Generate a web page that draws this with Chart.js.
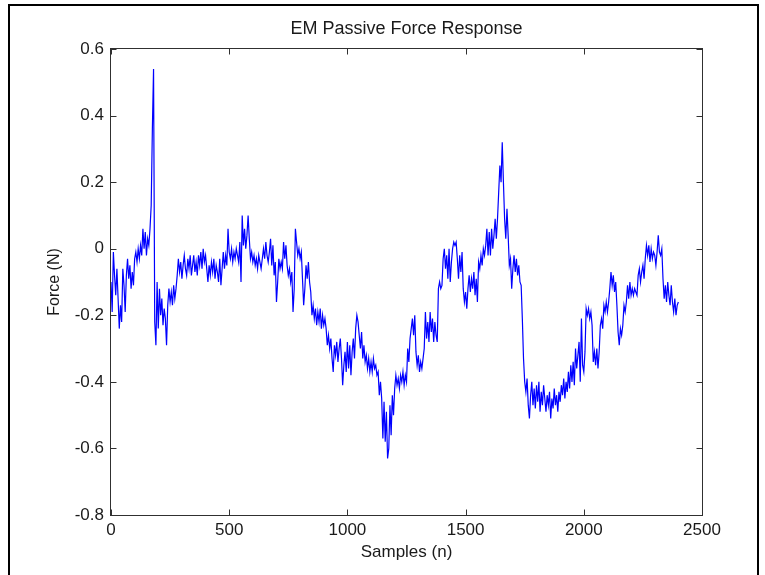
<!DOCTYPE html>
<html>
<head>
<meta charset="utf-8">
<script src="https://cdn.jsdelivr.net/npm/chart.js@4/dist/chart.umd.min.js"></script>
<style>
  html, body { margin: 0; padding: 0; background: #fff; }
  #wrap { position: relative; width: 765px; height: 575px; overflow: hidden; }
  #frame { position: absolute; left: 8px; top: 4px; width: 747px; height: 600px;
           border-left: 2px solid #000; border-top: 2px solid #000; border-right: 2px solid #000; }
  canvas { position: absolute; left: 0; top: 0; }
</style>
</head>
<body>
<div id="wrap">
  <div id="frame"></div>
  <canvas id="c" width="765" height="575"></canvas>
</div>
<script>
// Readings every 5 samples (n = 0, 5, 10, ... 2400)
const sampleStep = 5;

// Force values (N), one row per 100 samples
const force = [
  -0.10, -0.19, -0.01, -0.08, -0.14, -0.06, -0.15, -0.24, -0.17, -0.22, -0.06, -0.11, -0.19, -0.08, -0.03, -0.09, -0.05, -0.12, -0.07, -0.11, // 0-95
  -0.03, -0.01, -0.04,  0.00, -0.03,  0.01, -0.02,  0.06,  0.00,  0.05, -0.02,  0.03,  0.01,  0.06,  0.13,  0.36,  0.54, -0.22, -0.29, -0.10, // 100-195
  -0.24, -0.12, -0.20, -0.15, -0.23, -0.18, -0.21, -0.29, -0.17, -0.12, -0.16, -0.13, -0.17, -0.11, -0.15, -0.12, -0.08, -0.03, -0.07, -0.04, // 200-295
  -0.09, -0.05, -0.02, -0.06, -0.08, -0.03, -0.06, -0.02, -0.08, -0.05, -0.02, -0.07, -0.04, -0.08, -0.02, -0.05, -0.01, -0.06,  0.00, -0.04, // 300-395
  -0.02, -0.06, -0.10, -0.05, -0.08, -0.04, -0.07, -0.03, -0.09, -0.05, -0.07, -0.10, -0.03, -0.11, -0.06, -0.01, -0.06, -0.02, -0.05,  0.06, // 400-495
  -0.01, -0.03,  0.00, -0.04, -0.01, -0.03,  0.00, -0.02, -0.04,  0.02, -0.10,  0.10,  0.01,  0.06,  0.00,  0.04,  0.10,  0.03, -0.03, -0.01, // 500-595
  -0.04, -0.02, -0.05, -0.03, -0.06, -0.02, -0.04, -0.06, -0.03,  0.00, -0.03,  0.02, -0.02, -0.04, -0.01,  0.03, -0.05,  0.01, -0.08, -0.04, // 600-695
  -0.16, -0.10, -0.03, -0.06, -0.04, -0.06,  0.02, -0.03,  0.01, -0.05, -0.08, -0.06, -0.10, -0.07, -0.19, -0.12,  0.06,  0.02, -0.02,  0.00, // 700-795
  -0.03, -0.01, -0.09, -0.17, -0.12, -0.05, -0.09, -0.04, -0.10, -0.13, -0.20, -0.17, -0.21, -0.18, -0.23, -0.19, -0.22, -0.18, -0.24, -0.20, // 800-895
  -0.23, -0.21, -0.24, -0.29, -0.26, -0.30, -0.27, -0.33, -0.37, -0.29, -0.32, -0.28, -0.34, -0.30, -0.27, -0.33, -0.41, -0.35, -0.31, -0.37, // 900-995
  -0.28, -0.36, -0.29, -0.38, -0.31, -0.27, -0.33, -0.24, -0.20, -0.22, -0.26, -0.30, -0.25, -0.33, -0.29, -0.34, -0.32, -0.36, -0.33, -0.37, // 1000-1095
  -0.34, -0.37, -0.33, -0.36, -0.35, -0.38, -0.37, -0.44, -0.40, -0.45, -0.57, -0.46, -0.58, -0.49, -0.63, -0.60, -0.47, -0.56, -0.44, -0.50, // 1100-1195
  -0.42, -0.38, -0.41, -0.39, -0.42, -0.38, -0.40, -0.37, -0.41, -0.38, -0.40, -0.30, -0.34, -0.27, -0.24, -0.21, -0.26, -0.20, -0.31, -0.35, // 1200-1295
  -0.32, -0.37, -0.34, -0.36, -0.33, -0.30, -0.19, -0.27, -0.22, -0.28, -0.19, -0.25, -0.21, -0.28, -0.22, -0.26, -0.28, -0.12, -0.10, -0.12, // 1300-1395
  -0.11, -0.03,  0.00, -0.06, -0.02, -0.09,  0.00, -0.10, -0.04,  0.00,  0.02,  0.01,  0.02, -0.03, -0.09, -0.02, -0.07, -0.01, -0.12, -0.16, // 1400-1495
  -0.13, -0.18, -0.12, -0.08, -0.13, -0.09, -0.12, -0.07, -0.14, -0.09, -0.16, -0.04, -0.06, -0.02, -0.05,  0.00, -0.02,  0.01,  0.06, -0.02, // 1500-1595
   0.05, -0.02,  0.06,  0.00,  0.04,  0.09,  0.03,  0.09,  0.17,  0.25,  0.20,  0.32,  0.20,  0.09,  0.03,  0.12,  0.04, -0.05, -0.03, -0.12, // 1600-1695
  -0.06, -0.02, -0.07, -0.03, -0.08, -0.05, -0.10, -0.11, -0.21, -0.33, -0.40, -0.43, -0.39, -0.47, -0.51, -0.44, -0.40, -0.47, -0.42, -0.48, // 1700-1795
  -0.41, -0.46, -0.40, -0.49, -0.43, -0.47, -0.41, -0.45, -0.49, -0.44, -0.47, -0.43, -0.51, -0.45, -0.48, -0.42, -0.47, -0.44, -0.49, -0.43, // 1800-1895
  -0.46, -0.41, -0.44, -0.39, -0.45, -0.40, -0.43, -0.37, -0.42, -0.35, -0.40, -0.34, -0.41, -0.30, -0.36, -0.32, -0.28, -0.40, -0.21, -0.35, // 1900-1995
  -0.37, -0.31, -0.18, -0.20, -0.18, -0.21, -0.19, -0.23, -0.34, -0.31, -0.35, -0.30, -0.36, -0.31, -0.23, -0.21, -0.24, -0.17, -0.19, -0.16, // 2000-2095
  -0.19, -0.16, -0.12, -0.07, -0.11, -0.08, -0.13, -0.10, -0.17, -0.25, -0.29, -0.24, -0.26, -0.23, -0.17, -0.19, -0.16, -0.11, -0.15, -0.10, // 2100-2195
  -0.14, -0.12, -0.14, -0.12, -0.13, -0.14, -0.08, -0.06, -0.10, -0.07, -0.05, -0.09, -0.03,  0.01, -0.02,  0.01, -0.04,  0.00, -0.03, -0.01, // 2200-2295
  -0.02, -0.05, -0.01,  0.04, -0.01, -0.02,  0.00, -0.09, -0.15, -0.11, -0.16, -0.10, -0.14, -0.17, -0.11, -0.16, -0.19, -0.15, -0.20, -0.17, // 2300-2395
  -0.16                                                                                                                                          // 2400
];
const samples = force.map((_, i) => i * sampleStep);

const xTicks = [0, 500, 1000, 1500, 2000, 2500];
const yTicks = [-0.8, -0.6, -0.4, -0.2, 0, 0.2, 0.4, 0.6];
const yTickLabels = ['-0.8', '-0.6', '-0.4', '-0.2', '0', '0.2', '0.4', '0.6'];

const FONT = "'Liberation Sans', Arial, Helvetica, sans-serif";
const TEXT = '#1a1a1a';

const matlabAxes = {
  id: 'matlabAxes',
  afterDraw(chart) {
    const { ctx, chartArea: a, scales: { x, y } } = chart;
    ctx.save();
    ctx.strokeStyle = '#303030';
    ctx.lineWidth = 1;
    const L = Math.round(a.left) - 0.5, R = Math.round(a.right) + 0.5;
    const T = Math.round(a.top) - 0.5, B = Math.round(a.bottom) + 0.5;
    ctx.strokeRect(L, T, R - L, B - T);
    const tl = 6;
    ctx.beginPath();
    xTicks.forEach(v => {
      const px = Math.round(x.getPixelForValue(v)) + 0.5;
      ctx.moveTo(px, B); ctx.lineTo(px, B - tl);
      ctx.moveTo(px, T); ctx.lineTo(px, T + tl);
    });
    yTicks.forEach(v => {
      const py = Math.round(y.getPixelForValue(v)) + 0.5;
      ctx.moveTo(L, py); ctx.lineTo(L + tl, py);
      ctx.moveTo(R, py); ctx.lineTo(R - tl, py);
    });
    ctx.stroke();
    ctx.restore();
  }
};

new Chart(document.getElementById('c'), {
  type: 'line',
  data: {
    datasets: [{
      data: samples.map((n, i) => ({ x: n, y: force[i] })),
      borderColor: '#0000ff',
      borderWidth: 1.2,
      pointRadius: 0,
      tension: 0,
      fill: false
    }]
  },
  options: {
    responsive: false,
    animation: false,
    devicePixelRatio: 1,
    layout: { padding: { left: 0, right: 63, top: 0, bottom: 0 } },
    plugins: {
      legend: { display: false },
      tooltip: { enabled: false },
      title: {
        display: true,
        fullSize: false,
        text: 'EM Passive Force Response',
        color: TEXT,
        font: { family: FONT, size: 18, weight: 'normal' },
        padding: { top: 18, bottom: 9.4 }
      }
    },
    scales: {
      x: {
        type: 'linear',
        min: 0, max: 2500,
        afterBuildTicks: s => { s.ticks = xTicks.map(v => ({ value: v })); },
        afterFit: s => { s.height = 60; },
        grid: { display: false, drawTicks: false },
        border: { display: false },
        ticks: { color: TEXT, font: { family: FONT, size: 17 }, padding: 5, maxRotation: 0,
                 callback: v => String(v) },
        title: { display: true, text: 'Samples (n)', color: TEXT,
                 font: { family: FONT, size: 17 }, padding: { top: 0, bottom: 12 } }
      },
      y: {
        type: 'linear',
        min: -0.8, max: 0.6,
        afterBuildTicks: s => { s.ticks = yTicks.map(v => ({ value: v })); },
        afterFit: s => { s.width = 111; },
        grid: { display: false, drawTicks: false },
        border: { display: false },
        ticks: { color: TEXT, font: { family: FONT, size: 17 }, padding: 7,
                 callback: (v) => yTickLabels[yTicks.findIndex(t => Math.abs(t - v) < 1e-9)] },
        title: { display: true, text: 'Force (N)', color: TEXT,
                 font: { family: FONT, size: 16 }, padding: { top: 45, bottom: 0 } }
      }
    }
  },
  plugins: [matlabAxes]
});
</script>
</body>
</html>
